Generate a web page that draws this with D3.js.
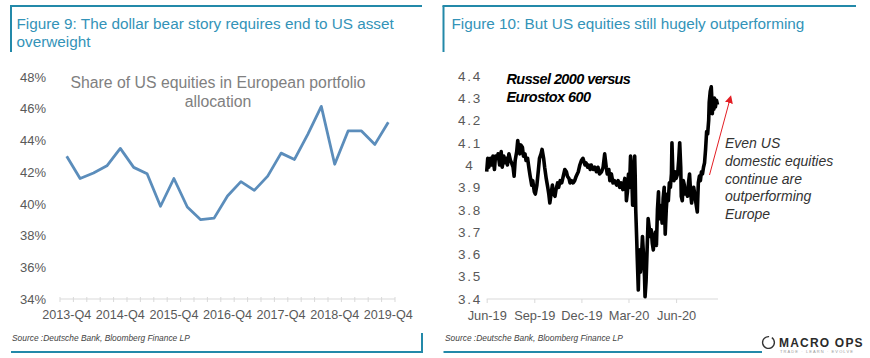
<!DOCTYPE html>
<html><head><meta charset="utf-8">
<script src="https://cdn.jsdelivr.net/npm/d3@7"></script>
<style>
html,body{margin:0;padding:0;background:#fff;}
svg{display:block;font-family:"Liberation Sans",Arial,sans-serif;}
</style></head>
<body><svg id="c" width="870" height="358"></svg>
<script>
// ---------- DATA ----------
const leftTitleLines = ["Figure 9: The dollar bear story requires end to US asset", "overweight"];
const rightTitleLines = ["Figure 10: But US equities still hugely outperforming"];
const sourceText = "Source :Deutsche Bank, Bloomberg Finance LP";

const quarters = ["2013-Q4","2014-Q1","2014-Q2","2014-Q3","2014-Q4","2015-Q1","2015-Q2","2015-Q3","2015-Q4",
  "2016-Q1","2016-Q2","2016-Q3","2016-Q4","2017-Q1","2017-Q2","2017-Q3","2017-Q4",
  "2018-Q1","2018-Q2","2018-Q3","2018-Q4","2019-Q1","2019-Q2","2019-Q3","2019-Q4"];
const usShare = [43.0,41.6,41.95,42.4,43.5,42.3,41.9,39.85,41.6,39.8,39.0,39.1,40.5,41.4,40.85,41.75,
  43.2,42.8,44.4,46.15,42.5,44.6,44.6,43.75,45.15];
const leftTicks = [34,36,38,40,42,44,46,48];
const leftLabelQuarters = ["2013-Q4","2014-Q4","2015-Q4","2016-Q4","2017-Q4","2018-Q4","2019-Q4"];
const leftInnerTitle = ["Share of US equities in European portfolio", "allocation"];

const startDate = "2019-06-01";
const endDate = "2020-08-21";
const dayOffsets = [0,2,4,7,10,12,15,17,20,22,25,28,30,33,35,38,40,43,46,48,51,53,55,58,60,62,64,66,69,71,74,76,79,82,84,87,89,92,94,97,
  100,102,105,107,110,112,115,118,120,122,125,127,129,132,134,137,139,142,145,148,151,154,156,159,161,164,167,170,173,177,
  180,183,186,190,192,195,197,200,202,206,209,212,215,218,222,225,228,231,233,236,238,241,244,247,251,254,257,260,263,267,
  269,270,272,274,276,278,280,282,284,286,287,288,290,291,293,294,296,297,299,301,303,305,306,308,310,312,314,316,318,320,
  322,324,326,328,330,332,333,335,337,339,341,343,345,347,349,351,353,355,357,358,360,362,364,366,369,371,373,375,376,378,
  380,382,384,386,388,390,392,394,396,398,400,402,403,405,407,409,411,413,415,417,419,421,423,425,427,429,430,432,434,435,
  436,437,439,440,442,444,446];
const ratio = [3.97,4.03,3.99,4.03,4.00,4.04,3.98,4.04,4.03,4.05,4.00,4.06,3.99,4.04,4.01,4.03,4.00,4.05,4.02,4.01,3.99,3.95,4.02,4.06,4.11,4.07,4.05,4.09,4.08,4.04,
  4.05,4.02,4.03,3.98,3.95,3.91,3.93,3.88,3.87,3.91,3.98,4.03,4.05,4.07,4.03,3.99,3.94,3.90,3.87,3.83,3.88,3.91,3.87,3.86,3.89,3.92,3.90,3.93,3.92,3.95,
  3.98,3.97,3.95,3.94,3.92,3.93,3.92,3.93,3.95,3.97,4.00,4.02,4.03,4.00,4.01,3.99,4.00,3.98,4.00,3.98,3.99,3.97,3.99,3.96,3.97,3.99,4.05,3.99,3.96,3.98,
  3.93,3.96,3.92,3.93,3.91,3.93,3.90,3.92,3.89,3.94,3.92,3.84,3.88,3.96,3.90,4.04,3.98,3.82,3.92,4.04,3.95,3.80,3.66,3.58,3.44,3.55,3.62,3.52,3.58,3.68,
  3.60,3.50,3.41,3.48,3.62,3.76,3.72,3.68,3.71,3.65,3.62,3.67,3.70,3.64,3.80,3.88,3.76,3.82,3.80,3.74,3.85,3.90,3.69,3.80,3.87,3.84,3.92,3.90,3.96,4.10,
  3.95,3.93,3.97,3.94,3.96,4.02,4.10,3.99,3.86,3.84,3.93,3.91,3.87,3.89,3.86,3.92,3.96,3.88,3.83,3.88,3.90,3.87,3.85,3.82,3.79,3.92,3.95,3.93,3.97,3.96,
  3.99,4.01,4.07,4.15,4.14,4.20,4.28,4.33,4.35,4.30,4.23,4.28,4.25,4.30,4.26,4.29,4.27];
const rightTicks = [3.4,3.5,3.6,3.7,3.8,3.9,4.0,4.1,4.2,4.3,4.4];
const rightTickDates = ["2019-06-01","2019-09-01","2019-12-01","2020-03-01","2020-06-01"];
const rightSeriesLabel = ["Russel 2000 versus", "Eurostox 600"];
const rightNote = ["Even US", "domestic equities", "continue are", "outperforming", "Europe"];

// ---------- STYLE ----------
const teal = "#2389a9", titleCol = "#3393b8", axisGray = "#d9d9d9", labelCol = "#595959";
const svg = d3.select("#c");

// ---------- frames ----------
function frame(x0, x1, bottomEnd, rightVert) {
  svg.append("line").attr("x1", x0 - 1).attr("x2", x1).attr("y1", 6).attr("y2", 6).attr("stroke", teal).attr("stroke-width", 2);
  svg.append("line").attr("x1", x0).attr("x2", x0).attr("y1", 6).attr("y2", 52).attr("stroke", teal).attr("stroke-width", 2);
  svg.append("line").attr("x1", x0).attr("x2", bottomEnd).attr("y1", 352).attr("y2", 352).attr("stroke", teal).attr("stroke-width", 2.2);
  if (rightVert) svg.append("line").attr("x1", x1).attr("x2", x1).attr("y1", 333).attr("y2", 353).attr("stroke", teal).attr("stroke-width", 2);
}
frame(11, 422, 422, true);
frame(443.5, 856, 762, false);

function title(x, lines) {
  svg.append("g").selectAll("text").data(lines).join("text")
    .attr("x", x).attr("y", (d, i) => 28.5 + i * 18.5)
    .attr("fill", titleCol).attr("font-size", 15.3).text(d => d);
}
title(16.5, leftTitleLines);
title(451.5, rightTitleLines);

function source(x) {
  svg.append("text").attr("x", x).attr("y", 341).attr("font-size", 8.4).attr("font-style", "italic")
    .attr("fill", "#444").text(sourceText);
}
source(12); source(445);

// ---------- LEFT CHART ----------
const xb = d3.scaleBand().domain(quarters).range([60, 395]);
const yl = d3.scaleLinear().domain([34, 48]).range([299, 77]);

const gyl = svg.append("g").attr("transform", "translate(49,0)")
  .call(d3.axisLeft(yl).tickValues(leftTicks).tickFormat(d => d + "%").tickSize(0).tickPadding(3));
gyl.select(".domain").remove();
gyl.selectAll("text").attr("font-size", 13).attr("fill", labelCol).attr("font-family", "Liberation Sans, Arial, sans-serif");

svg.append("line").attr("x1", xb.range()[0]).attr("x2", xb.range()[1]).attr("y1", 299).attr("y2", 299)
  .attr("stroke", axisGray).attr("stroke-width", 1);
const bounds = quarters.map(q => xb(q)).concat([xb.range()[1]]);
svg.append("g").selectAll("line").data(bounds).join("line")
  .attr("x1", d => d).attr("x2", d => d).attr("y1", 297).attr("y2", 302)
  .attr("stroke", axisGray).attr("stroke-width", 1);
const gxl = svg.append("g").attr("transform", "translate(0,299)")
  .call(d3.axisBottom(xb).tickValues(leftLabelQuarters).tickSize(0).tickPadding(11));
gxl.select(".domain").remove();
gxl.selectAll("text").attr("font-size", 12.6).attr("fill", labelCol).attr("font-family", "Liberation Sans, Arial, sans-serif");

svg.append("g").selectAll("text").data(leftInnerTitle).join("text")
  .attr("x", 218).attr("y", (d, i) => 88.3 + i * 19).attr("text-anchor", "middle")
  .attr("font-size", 15.8).attr("fill", "#808080").text(d => d);

svg.append("path").datum(usShare)
  .attr("d", d3.line().x((d, i) => xb(quarters[i]) + xb.bandwidth() / 2).y(d => yl(d)))
  .attr("fill", "none").attr("stroke", "#5b8dbb").attr("stroke-width", 2.8).attr("stroke-linejoin", "round");

// ---------- RIGHT CHART ----------
const parse = d3.utcParse("%Y-%m-%d");
const t0 = parse(startDate);
const xt = d3.scaleUtc().domain([t0, parse(endDate)]).range([486.7, 718]);
const yr = d3.scaleLinear().domain([3.4, 4.4]).range([299, 75.7]);

const gyr = svg.append("g").attr("transform", "translate(470,0)")
  .call(d3.axisLeft(yr).tickValues(rightTicks).tickFormat(d => String(+d.toFixed(1))).tickSize(0).tickPadding(0));
gyr.select(".domain").remove();
gyr.selectAll("text").attr("text-anchor", "middle").attr("font-size", 13.5).attr("letter-spacing", "1.8px")
  .attr("fill", labelCol).attr("font-family", "Liberation Sans, Arial, sans-serif");

const tickDates = rightTickDates.map(parse);
const gxr = svg.append("g").attr("transform", "translate(0,299)")
  .call(d3.axisBottom(xt).tickValues(tickDates).tickFormat(d3.utcFormat("%b-%y")).tickSize(4).tickPadding(8));
gxr.select(".domain").attr("stroke", axisGray).attr("d", `M${xt.range()[0]},0H${xt.range()[1]}`);
gxr.selectAll("line").attr("stroke", axisGray);
gxr.selectAll("text").attr("font-size", 12.8).attr("fill", labelCol).attr("font-family", "Liberation Sans, Arial, sans-serif");

const series = dayOffsets.map((d, i) => ({ date: d3.utcDay.offset(t0, d), v: ratio[i] }));
svg.append("path").datum(series)
  .attr("d", d3.line().x(d => xt(d.date)).y(d => yr(d.v)))
  .attr("fill", "none").attr("stroke", "#000").attr("stroke-width", 3.6).attr("stroke-linejoin", "round");

svg.append("g").selectAll("text").data(rightSeriesLabel).join("text")
  .attr("x", 506.5).attr("y", (d, i) => 84 + i * 17.5)
  .attr("font-size", 14.5).attr("font-weight", "bold").attr("font-style", "italic").attr("letter-spacing", "-0.6px")
  .attr("fill", "#000").text(d => d);

svg.append("g").selectAll("text").data(rightNote).join("text")
  .attr("x", 725).attr("y", (d, i) => 148 + i * 17.8)
  .attr("font-size", 14).attr("font-style", "italic").attr("fill", "#333").text(d => d);

// arrow
const defs = svg.append("defs");
defs.append("marker").attr("id", "ah").attr("viewBox", "0 0 10 10").attr("refX", 5).attr("refY", 5)
  .attr("markerWidth", 8).attr("markerHeight", 8).attr("markerUnits", "userSpaceOnUse").attr("orient", "auto")
  .append("path").attr("d", "M0,0L10,5L0,10Z").attr("fill", "#e31e24");
svg.append("line").attr("x1", 709.5).attr("y1", 175).attr("x2", 730).attr("y2", 99)
  .attr("stroke", "#e31e24").attr("stroke-width", 1).attr("marker-end", "url(#ah)");

// logo
svg.append("path").attr("transform", "translate(768.5,342.5)")
  .attr("d", d3.arc().innerRadius(5.2).outerRadius(6.6).startAngle(0.6).endAngle(2 * Math.PI + 0.1)())
  .attr("fill", "#333");
svg.append("text").attr("x", 779).attr("y", 346.5).attr("font-size", 12).attr("font-weight", "bold")
  .attr("letter-spacing", "1.2px").attr("fill", "#2b2b2b").text("MACRO OPS");
svg.append("text").attr("x", 780).attr("y", 353).attr("font-size", 4).attr("letter-spacing", "1.1px")
  .attr("fill", "#999").text("TRADE · LEARN · EVOLVE");
</script></body></html>
